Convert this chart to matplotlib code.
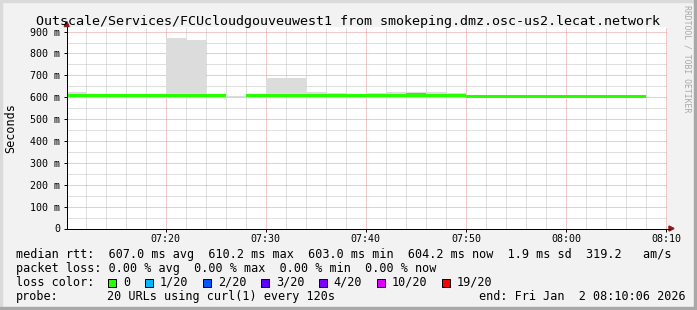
import numpy as np
import matplotlib
matplotlib.use('Agg')
import matplotlib.pyplot as plt
import matplotlib.dates as mdates
from matplotlib.patches import Rectangle, Polygon

plt.rcParams['font.family'] = ['DejaVu Sans Mono']

W, H = 697, 310

# Messwerte: 2-Minuten-Intervalle ab 07:10 (ms)
t_start = np.datetime64('2026-01-02T07:10:00')
step_s = 120
median_ms = np.array([608, 608, 608, 608, 608, 608, 608, 608, np.nan, 608,
                      608, 609, 608, 606, 606, 606, 606, 610.2, 610, 606,
                      603.0, 605, 603.5, 605, 605, 605, 605, 605, 604.2, np.nan])
smoke_lo_ms = np.array([603, 603, 603, 603, 603, 603, 603, 603, 603, 603,
                        603, 600, 603, 602, 602, 602, 602, 604, 604, 602,
                        600, 601, 600, 601, 601, 601, 601, 601, 601, np.nan])
smoke_hi_ms = np.array([624, 610, 610, 610, 610, 871, 862, 610, 607, 610,
                        689, 688, 624, 619, 613, 619, 622, 626, 626, 619,
                        606, 608, 608, 612, 612, 607, 607, 607, 607, np.nan])

y_ticks = [0, 100, 200, 300, 400, 500, 600, 700, 800, 900]
y_labels = ['0'] + ['%d m' % v for v in y_ticks[1:]]

title = 'Outscale/Services/FCUcloudgouveuwest1 from smokeping.dmz.osc-us2.lecat.network'
row_rtt = 'median rtt:  607.0 ms avg  610.2 ms max  603.0 ms min  604.2 ms now  1.9 ms sd  319.2   am/s'
row_loss = 'packet loss: 0.00 % avg  0.00 % max  0.00 % min  0.00 % now'
loss_labels = ['0', '1/20', '2/20', '3/20', '4/20', '10/20', '19/20']
loss_colors = ['#26ff00', '#00b8ff', '#0059ff', '#5e00ff', '#7e00ff', '#dd00ff', '#ff0000']
probe_text = '20 URLs using curl(1) every 120s'
end_text = 'end: Fri Jan  2 08:10:06 2026'

BG = '#f2f2f2'


def fx(x):
    return x / W


def fy(y):
    return 1 - y / H


fig = plt.figure(figsize=(W / 100, H / 100), dpi=100, facecolor=BG)
ax_l, ax_r, ax_t, ax_b = 66.7, 667, 27, 228.5
ax = fig.add_axes([fx(ax_l), fy(ax_b), fx(ax_r - ax_l), (ax_b - ax_t) / H])
ax.set_facecolor('white')

# Zeitachse
edges = t_start + np.arange(len(median_ms) + 1) * np.timedelta64(step_s, 's')
x_num = mdates.date2num(edges[:-1].astype('datetime64[s]').astype(object))
width = step_s / 86400.0

# Rauch (Streuung)
ax.bar(x_num, smoke_hi_ms - smoke_lo_ms, bottom=smoke_lo_ms, width=width,
       align='edge', color='#dcdcdc', linewidth=0, antialiased=False, zorder=2)

# Median als Band von ~3 px
band = 6.9
ax.bar(x_num, 2 * band, bottom=median_ms - band, width=width,
       align='edge', color=loss_colors[0], linewidth=0, antialiased=False, zorder=3)

x0 = mdates.date2num((t_start + np.timedelta64(6, 's')).astype('datetime64[s]').astype(object))
ax.set_xlim(x0, x0 + 3600 / 86400.0)
ax.set_ylim(0, 921)

ax.xaxis.set_major_locator(mdates.MinuteLocator(byminute=range(0, 60, 10)))
ax.xaxis.set_minor_locator(mdates.MinuteLocator(byminute=range(0, 60, 2)))
ax.xaxis.set_major_formatter(mdates.DateFormatter('%H:%M'))
ax.set_yticks(y_ticks)
ax.set_yticklabels(y_labels)
ax.set_yticks(np.arange(50, 921, 100), minor=True)

ax.set_axisbelow(True)
ax.grid(which='major', color='#e79494', linestyle=(0, (1, 1)), linewidth=0.72)
ax.grid(which='minor', color='#c0c0c0', linestyle=(0, (1, 1)), linewidth=0.72)

ax.tick_params(which='major', direction='out', length=2.5, width=0.72,
               labelsize=7.2, pad=2, colors='black')
ax.tick_params(axis='x', which='major', pad=1.5)
ax.tick_params(which='minor', length=0)

for s in ['top', 'right']:
    ax.spines[s].set_visible(False)
for s in ['left', 'bottom']:
    ax.spines[s].set_linewidth(0.72)
    ax.spines[s].set_zorder(5)

# Achsen-Pfeile
arrow_c = '#8b1a1a'
fig.add_artist(Polygon([[fx(64.2), fy(26.5)], [fx(69.2), fy(26.5)], [fx(66.7), fy(21.5)]],
                       closed=True, color=arrow_c, transform=fig.transFigure))
fig.add_artist(plt.Line2D([fx(ax_r), fx(670)], [fy(ax_b), fy(ax_b)], color='black',
                          lw=0.72, transform=fig.transFigure))
fig.add_artist(Polygon([[fx(669), fy(ax_b - 2.5)], [fx(669), fy(ax_b + 2.5)], [fx(674), fy(ax_b)]],
                       closed=True, color=arrow_c, transform=fig.transFigure))

# Texte
fig.text(0.5, fy(25), title, ha='center', va='baseline', fontsize=9.6)
fig.text(fx(11), fy(127.6), 'Seconds', rotation=90, ha='center', va='center', fontsize=8.5)
fig.text(fx(687.5), fy(59), 'RRDTOOL / TOBI OETIKER', rotation=-90, ha='center',
         va='center', fontsize=5.9, color='#a8a8a8')

cw = 7.1
fs = 8.5
fig.text(fx(16), fy(258.3), row_rtt, fontsize=fs, va='baseline')
fig.text(fx(16), fy(272), row_loss, fontsize=fs, va='baseline')
fig.text(fx(16), fy(285.7), 'loss color:', fontsize=fs, va='baseline')
bx = 108.0
for lab, col in zip(loss_labels, loss_colors):
    fig.add_artist(Rectangle((fx(bx), fy(287)), 8 / W, 8 / H, facecolor=col,
                             edgecolor='black', linewidth=0.72, transform=fig.transFigure))
    fig.text(fx(bx + 15), fy(285.7), lab, fontsize=fs, va='baseline')
    bx = bx + 15 + len(lab) * cw + 14.6
fig.text(fx(16), fy(299.7), 'probe:', fontsize=fs, va='baseline')
fig.text(fx(107), fy(299.7), probe_text, fontsize=fs, va='baseline')
fig.text(fx(479), fy(299.7), end_text, fontsize=fs, va='baseline')

# Rahmen
fig.add_artist(Rectangle((0, 0), 2 / W, 1, color='#dadada', transform=fig.transFigure))
fig.add_artist(Rectangle((0, 1 - 2 / H), 1, 2 / H, color='#dadada', transform=fig.transFigure))
fig.add_artist(Rectangle((1 - 3 / W, 0), 3 / W, 1, color='#a8a8a8', transform=fig.transFigure))
fig.add_artist(Rectangle((0, 0), 1, 3 / H, color='#a8a8a8', transform=fig.transFigure))

fig.savefig('out.png', dpi=100, facecolor=BG)
